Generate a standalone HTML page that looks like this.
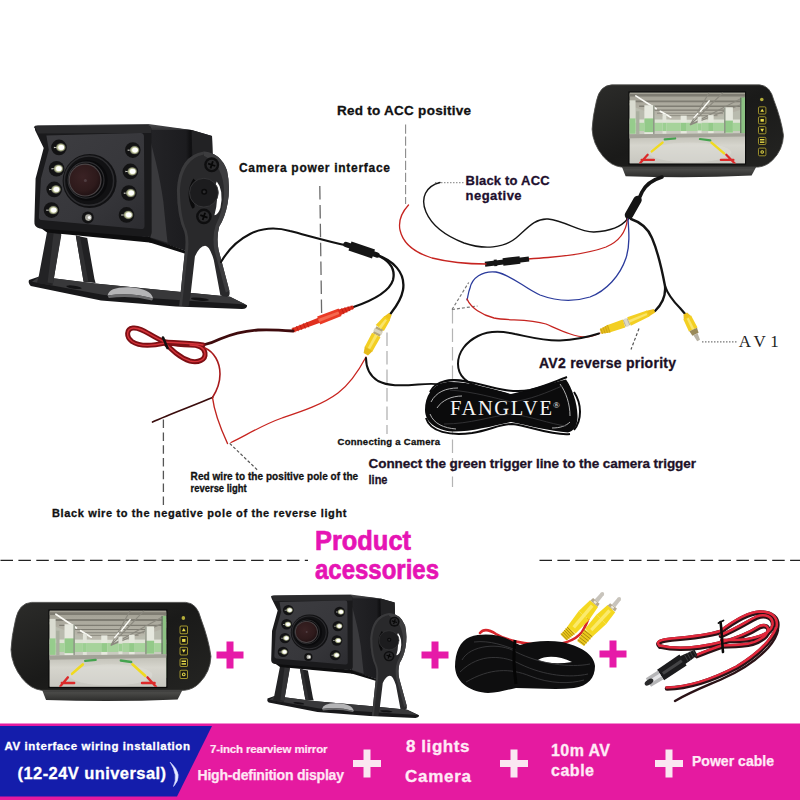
<!DOCTYPE html>
<html lang="en">
<head>
<meta charset="utf-8">
<title>Product accessories</title>
<style>
html,body{margin:0;padding:0;background:#fff;}
body{width:800px;height:800px;overflow:hidden;position:relative;}
svg{display:block;position:absolute;left:0;top:0;}
text{font-family:"Liberation Sans",sans-serif;font-weight:bold;}
.serif{font-family:"Liberation Serif",serif;font-weight:normal;}
</style>
</head>
<body>
<svg width="800" height="800" viewBox="0 0 800 800">
<defs>
<linearGradient id="gFront" x1="0" y1="0" x2="1" y2="1">
<stop offset="0" stop-color="#3d3d41"/><stop offset="0.6" stop-color="#37373b"/><stop offset="1" stop-color="#2c2c30"/>
</linearGradient>
<linearGradient id="gSide" x1="0" y1="0" x2="1" y2="0">
<stop offset="0" stop-color="#242427"/><stop offset="0.6" stop-color="#1c1c1f"/><stop offset="0.66" stop-color="#101012"/><stop offset="1" stop-color="#1e1e20"/>
</linearGradient>
<linearGradient id="gTop" x1="0" y1="0" x2="0" y2="1">
<stop offset="0" stop-color="#4a4a4c"/><stop offset="1" stop-color="#2a2a2c"/>
</linearGradient>
<radialGradient id="gLens" cx="0.42" cy="0.4" r="0.65">
<stop offset="0" stop-color="#3a2224"/><stop offset="0.7" stop-color="#2e1a1b"/><stop offset="1" stop-color="#1e1012"/>
</radialGradient>
<radialGradient id="gLed" cx="0.5" cy="0.5" r="0.5">
<stop offset="0" stop-color="#ffffff"/><stop offset="0.45" stop-color="#f4f7d8"/><stop offset="0.75" stop-color="#9aa07a"/><stop offset="1" stop-color="#2a2a2a"/>
</radialGradient>
<linearGradient id="gBase" x1="0" y1="0" x2="0" y2="1">
<stop offset="0" stop-color="#3c3c3e"/><stop offset="1" stop-color="#151517"/>
</linearGradient>
<g id="led">
<circle r="26" cx="-3" fill="#121213"/>
<ellipse cx="3" cy="0" rx="17" ry="15" fill="url(#gLed)"/>
<ellipse cx="5" cy="0" rx="9" ry="8" fill="#ffffff"/>
<path d="M-20,-2 L-8,0 L-20,3 Z" fill="#c9c9c0"/>
</g>
<g id="cam">
<!-- coordinates in 3.333x zoom space, origin real(20,100) -->
<!-- base plate -->
<path d="M30,600 Q26,610 36,620 L270,668 L520,688 L740,697 Q758,696 757,684 L700,656 L520,638 L250,612 L64,588 Z" fill="#18181a"/>
<path d="M64,588 L250,612 L520,638 L700,656 L752,682 L600,672 L280,650 L40,606 Z" fill="#38383a"/>
<path d="M292,652 Q296,622 366,624 Q436,628 444,662 Q370,640 292,652 Z" fill="#b4b4b6"/>
<path d="M292,652 Q370,640 444,662 L440,668 Q370,650 296,660 Z" fill="#6a6a6c"/>
<ellipse cx="180" cy="624" rx="26" ry="5" fill="#121214" transform="rotate(8 180 624)"/>
<ellipse cx="600" cy="664" rx="30" ry="5" fill="#121214" transform="rotate(5 600 664)"/>
<!-- housing right side (behind bracket) -->
<path d="M420,84 L572,100 L640,120 L642,180 L600,230 L562,506 L430,462 L430,150 Z" fill="url(#gSide)"/>
<path d="M572,100 L640,120 L642,180 L612,200 L575,215 Z" fill="#222224"/>
<path d="M436,140 C446,180 466,250 478,340 C484,400 488,440 492,476 L436,458 Z" fill="#3a3a3d"/>
<path d="M430,458 L562,506 L556,514 L430,474 Z" fill="#0e0e0f"/>
<!-- bracket side plate + two legs -->
<path d="M613,172 Q668,176 690,235 Q702,290 692,345 Q684,390 664,422 Q654,460 662,500 L698,636 Q702,656 688,657 L668,652 L646,533 Q632,486 617,486 Q598,488 583,522 L569,645 L562,688 L531,686 L548,520 Q556,470 548,440 Q524,390 523,300 Q530,185 613,172 Z" fill="#29292b"/>
<path d="M613,172 Q668,176 690,235 Q702,290 692,345 Q684,390 664,422 Q654,460 662,500 L698,636 L686,642 L648,500 Q640,455 652,418 Q676,370 680,320 Q684,220 613,186 Z" fill="#3d3d3f"/>
<path d="M613,172 Q530,185 523,300 Q524,390 548,440 Q556,470 548,520 L531,686 L540,686 L558,520 Q566,470 556,436 Q534,390 533,300 Q540,196 613,182 Z" fill="#3a3a3c"/>
<path d="M656,272 Q680,300 668,360 Q660,384 648,384 Q664,330 650,286 Z" fill="#ffffff"/>
<path d="M578,262 Q548,310 574,362 Q584,362 582,350 Q566,312 588,272 Z" fill="#0b0b0c"/>
<circle cx="613" cy="309" r="48" fill="#1c1c1e"/>
<circle cx="613" cy="309" r="48" fill="none" stroke="#38383a" stroke-width="3"/>
<circle cx="614" cy="306" r="10" fill="#0a0a0b"/><circle cx="614" cy="306" r="5" fill="#2a2a2c"/>
<circle cx="639" cy="216" r="25" fill="#0e0e0f"/><circle cx="639" cy="216" r="17" fill="#2a2a2c"/><path d="M627,212l24,8M643,204l-8,24" stroke="#070707" stroke-width="6"/>
<circle cx="613" cy="388" r="26" fill="#0e0e0f"/><circle cx="613" cy="388" r="18" fill="#2a2a2c"/><path d="M601,384l24,8M617,376l-8,24" stroke="#070707" stroke-width="6"/>
<!-- front legs -->
<path d="M92,430 L138,440 L112,600 L108,618 L56,610 L62,590 Z" fill="#232325"/>
<path d="M112,444 L138,448 L110,612 L92,608 Z" fill="#323234"/>
<path d="M186,452 L224,460 L248,596 L252,610 L212,606 Z" fill="#212123"/>
<path d="M186,452 L200,455 L228,606 L212,606 Z" fill="#2f2f31"/>
<!-- under-housing shadow strip -->
<path d="M60,420 L432,456 L440,476 L380,470 L90,442 Z" fill="#0d0d0e"/>
<!-- top surface -->
<path d="M46,92 Q48,84 60,84 L428,80 L572,100 L440,100 L60,104 Z" fill="url(#gTop)"/>
<!-- front hood frame -->
<path d="M50,88 L424,84 Q437,85 438,98 L439,440 Q439,459 420,457 L66,428 Q46,424 48,404 L52,262 L79,160 L50,100 Z" fill="#1a1a1c"/>
<path d="M50,88 L424,84 Q437,85 438,98 L438,110 L60,112 Z" fill="#2a2a2c"/>
<!-- inner front face -->
<path d="M88,118 L402,110 Q413,110 413,122 L415,420 Q415,432 402,430 L72,400 Q62,398 63,388 L70,262 L96,166 Z" fill="url(#gFront)"/>
<!-- lens -->
<circle cx="232" cy="270" r="90" fill="#111113"/>
<circle cx="230" cy="269" r="82" fill="none" stroke="#2c2c2f" stroke-width="5"/>
<circle cx="224" cy="268" r="68" fill="#0a0a0c"/>
<circle cx="220" cy="267" r="60" fill="none" stroke="#2e2e31" stroke-width="4"/>
<circle cx="217" cy="267" r="55" fill="#4a4446"/>
<circle cx="217" cy="267" r="51" fill="url(#gLens)"/>
<circle cx="218" cy="268" r="5" fill="#5a4a4e" opacity="0.7"/>
<!-- leds -->
<use href="#led" x="133" y="158"/><use href="#led" x="125" y="229"/><use href="#led" x="117" y="298"/><use href="#led" x="108" y="367"/>
<use href="#led" x="379" y="167"/><use href="#led" x="371" y="238"/><use href="#led" x="366" y="310"/><use href="#led" x="358" y="383"/>
<circle cx="226" cy="392" r="20" fill="#121213"/><circle cx="228" cy="392" r="11" fill="#a9a9a0"/><circle cx="231" cy="392" r="5" fill="#ffffff"/>
</g>
<linearGradient id="gMonBody" x1="0" y1="0" x2="1" y2="1">
<stop offset="0" stop-color="#2c2c2a"/><stop offset="0.5" stop-color="#1a1a19"/><stop offset="1" stop-color="#242422"/>
</linearGradient>
<linearGradient id="gMonBar" x1="0" y1="0" x2="0" y2="1">
<stop offset="0" stop-color="#2a2a29"/><stop offset="0.35" stop-color="#4a4a48"/><stop offset="1" stop-color="#2c2c2b"/>
</linearGradient>
<linearGradient id="gCeil" x1="0" y1="0" x2="0" y2="1">
<stop offset="0" stop-color="#a19f93"/><stop offset="1" stop-color="#bcbaae"/>
</linearGradient>
<linearGradient id="gFloor" x1="0" y1="0" x2="0" y2="1">
<stop offset="0" stop-color="#bdbcb2"/><stop offset="0.4" stop-color="#d6d5cd"/><stop offset="1" stop-color="#c8c7c0"/>
</linearGradient>
<clipPath id="scrClip"><rect x="180" y="82" width="420" height="258"/></clipPath>
<g id="monBody">
<!-- coordinates in 3.636x zoom space, origin real(580,70) -->
<path d="M150,346 L644,346 L624,384 Q400,394 166,386 Z" fill="url(#gMonBar)"/>
<path d="M116,54 L652,54 Q692,56 705,110 Q732,180 740,238 Q738,290 700,328 Q678,350 648,353 L150,353 Q112,348 84,314 Q46,268 44,215 Q46,170 60,112 Q72,56 116,54 Z" fill="url(#gMonBody)"/>
<path d="M116,54 L652,54 Q692,56 705,110 Q732,180 740,238 Q738,290 700,328 Q678,350 648,353 L150,353 Q112,348 84,314 Q46,268 44,215 Q46,170 60,112 Q72,56 116,54 Z" fill="none" stroke="#4a4a48" stroke-width="3"/>
</g>
<g id="monScr">
<!-- screen -->
<rect x="176" y="78" width="428" height="266" fill="#0c0c0c"/>
<g clip-path="url(#scrClip)">
<rect x="180" y="82" width="420" height="258" fill="#cfd2c6"/>
<!-- back wall band -->
<rect x="180" y="120" width="420" height="114" fill="#b9bbae"/>
<rect x="180" y="180" width="420" height="14" fill="#dfe3d6"/>
<rect x="180" y="192" width="420" height="30" fill="#a6d39b"/>
<rect x="180" y="222" width="420" height="12" fill="#c9cbc0"/>
<!-- ceiling -->
<path d="M180,82 L600,82 L600,140 L500,172 L470,180 L330,180 L290,170 L180,128 Z" fill="url(#gCeil)"/>
<g stroke="#7f7d73" fill="none">
<path d="M180,92 H600" stroke-width="9"/>
<path d="M180,114 H600" stroke-width="7"/>
<path d="M215,132 H585" stroke-width="5"/>
<path d="M250,146 H550" stroke-width="4"/>
<path d="M280,157 H520" stroke-width="3"/>
<path d="M300,166 H500" stroke-width="2.5"/>
<path d="M400,200 L470,82 M400,200 L520,82 M400,200 L600,96 M400,200 L600,120" stroke-width="4" stroke="#8b897f"/>
</g>
<path d="M203,94 L277,141 M292,150 L330,172" stroke="#fbfbf6" stroke-width="6" stroke-linecap="round"/>
<path d="M470,112 L438,150 M428,158 L414,174" stroke="#fbfbf6" stroke-width="5" stroke-linecap="round"/>
<!-- pillars -->
<rect x="180" y="110" width="22" height="140" fill="#d9dbd0"/><rect x="180" y="176" width="22" height="56" fill="#96cc8c"/>
<rect x="234" y="128" width="36" height="114" fill="#e6e8de"/><rect x="234" y="176" width="36" height="50" fill="#93ca89"/><rect x="266" y="128" width="5" height="114" fill="#8d9285"/>
<rect x="204" y="150" width="12" height="84" fill="#a9ae9f"/>
<rect x="300" y="160" width="14" height="72" fill="#e2e4da"/><rect x="300" y="192" width="14" height="30" fill="#9ccf92"/>
<rect x="366" y="166" width="22" height="66" fill="#e6e8de"/><rect x="366" y="192" width="22" height="30" fill="#93ca89"/>
<rect x="428" y="170" width="14" height="60" fill="#e2e4da"/><rect x="428" y="194" width="14" height="26" fill="#9ccf92"/>
<rect x="466" y="164" width="20" height="68" fill="#e6e8de"/><rect x="466" y="192" width="20" height="30" fill="#93ca89"/>
<rect x="524" y="136" width="32" height="104" fill="#e6e8de"/><rect x="524" y="184" width="32" height="44" fill="#93ca89"/><rect x="524" y="136" width="5" height="104" fill="#8d9285"/>
<rect x="586" y="100" width="14" height="210" fill="#8cc283"/><rect x="582" y="100" width="5" height="210" fill="#6a7a66"/>
<!-- floor -->
<path d="M180,234 L600,230 L600,340 L180,340 Z" fill="url(#gFloor)"/>
<path d="M180,234 L600,230 L600,242 L180,248 Z" fill="#a3a298"/>
<ellipse cx="400" cy="300" rx="150" ry="36" fill="#e2e1db" opacity="0.4"/>
<!-- guide lines -->
<path d="M308,252 L346,249" stroke="#44a34e" stroke-width="8" stroke-linecap="round"/>
<path d="M436,251 L474,256" stroke="#44a34e" stroke-width="8" stroke-linecap="round"/>
<path d="M300,264 L261,296" stroke="#f0da20" stroke-width="9" stroke-linecap="round"/>
<path d="M478,264 L524,303" stroke="#f0da20" stroke-width="9" stroke-linecap="round"/>
<path d="M246,308 L219,338 M224,327 L269,327" stroke="#dc2a2a" stroke-width="8" stroke-linecap="round"/>
<path d="M532,308 L563,340 M512,327 L558,327" stroke="#dc2a2a" stroke-width="8" stroke-linecap="round"/>
</g>
<!-- buttons -->
<circle cx="661" cy="107" r="6.5" fill="#b4ad3a"/>
<g fill="#1a1a14" stroke="#a3962f" stroke-width="3.5">
<rect x="649" y="134" width="27" height="26" rx="4"/>
<rect x="649" y="170" width="27" height="26" rx="4"/>
<rect x="649" y="206" width="27" height="26" rx="4"/>
<rect x="649" y="245" width="27" height="26" rx="4"/>
<rect x="649" y="284" width="27" height="28" rx="4"/>
</g>
<g fill="#e9dc4a">
<path d="M662.5,141l7,11h-14z"/><rect x="656.5" y="178" width="12" height="10"/><path d="M662.5,225l7,-11h-14z"/><rect x="654.5" y="251" width="16" height="5"/><rect x="654.5" y="260" width="16" height="5"/><circle cx="662.5" cy="298" r="6.5"/>
</g>
<circle cx="662.5" cy="298" r="3" fill="#1a1a14"/>
</g>

</defs>
<rect x="0" y="0" width="800" height="800" fill="#ffffff"/>

<!-- ===== dashed guide lines ===== -->
<g id="guides" fill="none" stroke="#8a8a8a" stroke-width="1.2">
<path d="M405.6,124.4V204" stroke-dasharray="9.3 2.8" stroke="#8a8a8a" stroke-width="1.1"/>
<path d="M319.8,186L321.6,313" stroke-dasharray="13.5 5.4" stroke="#6a6a6a" stroke-width="1.3"/>
<path d="M435,182.6H465" stroke-dasharray="1.5 1.5" stroke="#999"/>
<path d="M163.4,419.6V509" stroke-dasharray="8.5 4.3" stroke="#555" stroke-width="1.3"/>
<path d="M229.7,443.4L257.4,470" stroke-dasharray="3 2" stroke="#555"/>
<path d="M387,332.5V434" stroke-dasharray="13.5 5" stroke="#adadad"/>
<path d="M452.5,310V487" stroke-dasharray="13.5 5" stroke="#b4b4b4"/>
<path d="M452,309.5L468.7,282.5" stroke-dasharray="3 2" stroke="#777"/>
<path d="M452,309.5L477.5,306" stroke-dasharray="3 2" stroke="#777"/>
<path d="M639,328.5L631,349.5" stroke-dasharray="3 2" stroke="#555"/>
<path d="M702,341.8H737" stroke-dasharray="1.5 1.5" stroke="#777"/>

</g>

<!-- ===== top camera ===== -->
<use href="#cam" transform="translate(20,100) scale(0.3)"/>


<!-- ===== top monitor ===== -->
<use href="#monBody" transform="translate(580,70) scale(0.275)"/>
<use href="#monScr" transform="translate(580,70) scale(0.275)"/>


<!-- ===== wires ===== -->
<g id="wires" fill="none" stroke-linecap="round" stroke-linejoin="round">
<!-- camera cable -->
<path d="M221,262 C228,250 238,240 250,234 C262,228 276,227 290,231 C306,235 326,241 347,245.5" stroke="#111" stroke-width="2.1"/>
<path d="M350,246 L373.5,254" stroke="#161616" stroke-width="9.4" stroke-linecap="butt"/>
<path d="M346,244.5 L377,255" stroke="#161616" stroke-width="5.5"/>
<path d="M377,255 C388,260 396,268 393,280 C389,293 371,301 353.5,307" stroke="#111" stroke-width="2.3"/>
<path d="M377,255 C392,260 406,272 403,290 C401,301 395,308 390.3,314" stroke="#111" stroke-width="2.3"/>
<!-- red connector -->
<polygon points="293.1,332.6 320.8,322.6 318.8,317.4 291.5,328.6" fill="#e0301f"/>
<path d="M294.8,332.0L293.2,327.8M298.3,330.8L296.6,326.5M301.7,329.5L300.0,325.1M305.2,328.3L303.4,323.7M308.6,327.0L306.8,322.3" stroke="#b81c12" stroke-width="0.8" fill="none"/>
<polygon points="320.2,324.5 341.5,315.9 338.6,308.5 317.1,316.4" fill="#ea3a25"/>
<polygon points="319.2,321.9 340.5,313.4 339.6,311.0 318.1,319.1" fill="#f46a50"/>
<polygon points="340.0,315.6 354.1,308.5 352.9,305.5 337.7,309.7" fill="#de2c1c"/>
<path d="M343.8,313.8L341.8,308.5M346.8,312.3L344.9,307.6M349.7,310.8L348.1,306.7M352.6,309.3L351.3,305.9" stroke="#b81c12" stroke-width="0.8" fill="none"/>
<!-- red/black twin power wire -->
<path d="M293,331 C280,330 268,329.5 258,330 C245,331 232,334 220,339 C214,342 208,344 203,345" stroke="#3f0b0d" stroke-width="2.8"/>
<!-- bundle -->
<g stroke="#7d0f14" stroke-width="5">
<path d="M203,345 C190,343 178,343 165,342 C150,336 142,327 133,328 C126,329 126,337 132,341.5 C140,347 152,346 165,343"/>
<path d="M165,343 C172,350 180,358 190,361 C198,363 206,360 205,353 C204,347 198,345 190,345 C182,345 174,344 165,342"/>
</g>
<g stroke="#d5333a" stroke-width="1.4">
<path d="M203,345 C190,343 178,343 165,342 C150,336 142,327 133,328 C126,329 126,337 132,341.5 C140,347 152,346 165,343"/>
<path d="M165,343 C172,350 180,358 190,361 C198,363 206,360 205,353 C204,347 198,345 190,345"/>
</g>
<path d="M163,337.5 L167.5,348" stroke="#111" stroke-width="2.6"/>
<path d="M205,348 C214,352 220,362 220,374 C220,384 216,392 212.5,397.5" stroke="#a81a1c" stroke-width="1.6"/>
<path d="M212.5,397.5 C195,405 170,414 152.5,422" stroke="#3a0c0c" stroke-width="1.7"/>
<path d="M212.5,397.5 C214,410 219,425 227.5,443.5" stroke="#c0241f" stroke-width="1.4"/>
<!-- thin red from camera RCA -->
<path d="M366,357 C358,372 350,384 338,393 C322,405 300,412 282,418 C262,425 245,436 231,442.5" stroke="#c8241f" stroke-width="1.3"/>
<!-- yellow RCA camera -->
<polygon points="388.9,312.9 383.8,316.8 389.4,321.0 391.7,315.1" fill="#eec21c"/>
<polygon points="384.4,316.1 375.7,324.9 383.9,331.1 390.0,320.3" fill="#f3cf22"/>
<polygon points="376.4,326.3 372.9,333.3 379.7,336.7 383.2,329.7" fill="#b5a77a"/>
<polygon points="374.7,328.1 373.3,330.9 381.4,334.9 382.8,332.1" fill="#d9d4c0"/>
<polygon points="372.1,332.7 364.5,347.3 372.4,351.6 380.5,337.3" fill="#f3cf22"/>
<polygon points="364.8,346.7 363.6,353.1 368.0,355.5 372.7,351.0" fill="#e6bb1a"/>
<polygon points="385.2,318.9 378.6,327.1 381.0,328.9 387.0,320.3" fill="#f9e46a"/>
<polygon points="375.0,334.3 367.8,347.9 370.1,349.1 377.6,335.7" fill="#f9e46a"/>
<!-- cable from camera RCA to coil -->
<path d="M366,358 C366,368 370,376 378,381 C388,386 400,386 418,384.5 C430,383.5 440,383 448,386" stroke="#111" stroke-width="2"/>
<!-- monitor harness: thick cable and joint -->
<path d="M662,177 C652,180 646,184 642,192 C640,197 638,200 636,204" stroke="#141414" stroke-width="3.6"/>
<path d="M637.5,200 L629,215" stroke="#141414" stroke-width="8.5"/>
<path d="M629,215 L627.5,219" stroke="#141414" stroke-width="3"/>
<!-- black thin wire -->
<path d="M627.5,219 C622,226 612,231 594,232 C580,232.5 566,221 548,219 C534,218 526,230 516,238 C504,248 484,250 464,243 C446,236 432,226 426,212 C420,198 426,186 440,182.5" stroke="#151515" stroke-width="1.4"/>
<!-- red wire w/ fuse -->
<path d="M627.5,219 C626,232 618,242 606,247 C590,253 566,256 548,257.5 C540,258 534,258.5 528,259" stroke="#c62420" stroke-width="1.3"/>
<path d="M485,264.2 L529,259" stroke="#151515" stroke-width="5" stroke-linecap="butt"/>
<path d="M503,262 L520,260" stroke="#151515" stroke-width="7.6" stroke-linecap="butt"/>
<path d="M494,263 L497,262.7" stroke="#151515" stroke-width="6.6" stroke-linecap="butt"/>
<path d="M486,264 C466,264 448,262 432,258 C416,253 403,244 400,230 C398,220 403,211 408.5,205" stroke="#c62420" stroke-width="1.3"/>
<!-- blue wire -->
<path d="M628,219 C629,232 630,246 626,258 C620,276 606,291 590,297 C574,302 556,301 540,295 C524,288 512,275 496,272 C482,270.5 472,278 470,288 C468,293 468,297 467,300" stroke="#2b3b9c" stroke-width="1.3"/>
<!-- lower red wire to AV2 -->
<path d="M467,299 C471,308 482,315 494,318 C508,321 528,318.5 546,324 C560,330 574,337 586,337 C592,337 596,335 600,333" stroke="#c62420" stroke-width="1.3"/>
<!-- thick black cable from joint to RCAs -->
<path d="M631,219 C640,222 648,228 652,238 C658,252 662,270 665,286 C666,296 662,304 655,311" stroke="#141414" stroke-width="2.4"/>
<path d="M665,286 C668,295 674,302 680,308 L686,315" stroke="#141414" stroke-width="2.2"/>
<!-- AV2 pair -->
<polygon points="653.8,309.1 645.6,311.0 648.1,317.0 655.2,312.5" fill="#eec21c"/>
<polygon points="646.9,310.5 627.2,317.2 630.8,325.8 649.4,316.5" fill="#f3cf22"/>
<polygon points="627.7,318.3 622.7,320.3 625.3,326.7 630.3,324.7" fill="#b9b39a"/>
<polygon points="626.4,318.0 623.4,319.2 626.6,327.0 629.6,325.8" fill="#dcd8c8"/>
<polygon points="622.7,319.6 606.3,325.4 608.8,332.8 625.3,327.4" fill="#f3cf22"/>
<polygon points="607.5,325.0 599.8,329.3 601.2,333.7 610.0,332.4" fill="#e6bb1a"/>
<path d="M607.6,325.3L609.9,332.1M605.3,326.4L607.4,332.6M603.1,327.5L605.0,333.1M600.8,328.7L602.5,333.5" stroke="#c79f12" stroke-width="0.8" fill="none"/>
<polygon points="646.5,313.1 628.5,320.2 629.5,322.8 647.2,314.9" fill="#f9e46a"/>
<!-- AV1 plug -->
<polygon points="683.5,314.4 683.8,320.2 691.5,316.4 687.1,312.6" fill="#eec21c"/>
<polygon points="683.4,319.4 688.9,331.6 697.5,327.4 691.1,315.6" fill="#f3cf22"/>
<polygon points="686.7,318.8 692.0,330.1 694.4,328.9 688.7,317.8" fill="#f9e46a"/>
<polygon points="689.4,331.3 692.4,335.7 698.6,332.7 697.0,327.7" fill="#9a8a5a"/>
<polygon points="693.4,335.2 697.2,341.2 700.0,339.8 697.6,333.2" fill="#b9b4a6"/>
<!-- long cable from AV2 to coil -->
<path d="M599,333.5 C588,337 574,340 560,340.5 C544,341 530,337 515,334 C502,331 488,331 478,336 C466,342 458,352 458,364 C458,376 468,384 482,388 C492,391 500,392 506,394" stroke="#111" stroke-width="2"/>
</g>
<!-- coil -->
<g id="coil">
<path d="M425,410 C425,396 432,386 444,382.5 C462,380 490,388 511,394 C530,390 550,383 566,379.5 C572,388 578,404 577.5,418 C577,426 574,431 568,432.5 C550,431 530,426 511,422 C492,426 470,432 452,431.5 C436,430 425,422 425,410 Z" fill="#0b0b0c"/>
<g fill="none" stroke="#0b0b0c" stroke-width="2">
<path d="M446,381 C470,376 500,396 530,390 C545,386 556,381 567,377"/>
<path d="M430,392 C436,380 452,378 468,382"/>
<path d="M426,418 C430,432 450,436 472,433 C490,430 500,424 512,424 C530,426 552,436 570,434"/>
<path d="M574,392 C582,404 582,420 574,430"/>
<path d="M438,386 C432,396 430,410 436,424"/>
</g>
<g fill="none" stroke="#ffffff" stroke-width="0.9" opacity="0.75">
<path d="M431,402 C436,392 446,388 458,388"/>
<path d="M430,414 C434,424 444,428 456,429"/>
<path d="M437,408 C442,400 452,396 462,396"/>
<path d="M560,384 C566,392 570,404 570,416"/>
<path d="M552,428 C560,428 566,426 570,422"/>
</g>
<g fill="none" stroke="#3a3a3c" stroke-width="0.8">
<path d="M450,390 C475,392 495,398 511,402 C530,400 548,392 562,386"/>
<path d="M444,424 C470,424 492,416 511,414 C530,416 550,424 566,426"/>
</g>
<text class="serif" x="450" y="415" font-size="20.5" fill="#f4f4f4" textLength="102" lengthAdjust="spacing">FANGLVE</text>
<text class="serif" x="553" y="408" font-size="9" fill="#f4f4f4">®</text>
</g>


<!-- ===== labels ===== -->
<g id="labels">
<text x="337" y="114.7" font-size="13.5" fill="#111111" stroke="#111111" stroke-width="0.3" textLength="134" lengthAdjust="spacing">Red to ACC positive</text>
<text x="239" y="171.7" font-size="12" fill="#111111" stroke="#111111" stroke-width="0.3" textLength="151" lengthAdjust="spacing">Camera power interface</text>
<text x="465.6" y="185.0" font-size="13" fill="#1e0f2e" stroke="#1e0f2e" stroke-width="0.3" textLength="84" lengthAdjust="spacing">Black to ACC</text>
<text x="465.6" y="200.3" font-size="13" fill="#1e0f2e" stroke="#1e0f2e" stroke-width="0.3" textLength="56" lengthAdjust="spacing">negative</text>
<text x="539" y="368.4" font-size="14" fill="#1c1026" stroke="#1c1026" stroke-width="0.3" textLength="137" lengthAdjust="spacing">AV2 reverse priority</text>
<text class="serif" x="738.8" y="346.7" font-size="17" fill="#222222" textLength="40" lengthAdjust="spacing">AV1</text>
<text x="337.5" y="444.7" font-size="9.5" fill="#111111" stroke="#111111" stroke-width="0.3" textLength="102.5" lengthAdjust="spacing">Connecting a Camera</text>
<text x="368.5" y="468.2" font-size="13.5" fill="#1e1228" stroke="#1e1228" stroke-width="0.3" textLength="327.5" lengthAdjust="spacing">Connect the green trigger line to the camera trigger</text>
<text x="368.5" y="484.2" font-size="13.5" fill="#1e1228" stroke="#1e1228" stroke-width="0.3" textLength="19" lengthAdjust="spacingAndGlyphs">line</text>
<text x="190.6" y="480.2" font-size="10" fill="#111111" stroke="#111111" stroke-width="0.3" textLength="167.5" lengthAdjust="spacing">Red wire to the positive pole of the</text>
<text x="190.6" y="492.1" font-size="10" fill="#111111" stroke="#111111" stroke-width="0.3" textLength="56" lengthAdjust="spacingAndGlyphs">reverse light</text>
<text x="52" y="516.7" font-size="11" fill="#111111" stroke="#111111" stroke-width="0.3" textLength="294.5" lengthAdjust="spacing">Black wire to the negative pole of the reverse light</text>
<text x="315" y="550" font-size="27" fill="#e614b4" stroke="#e614b4" stroke-width="0.7" textLength="96" lengthAdjust="spacingAndGlyphs">Product</text>
<text x="315" y="579" font-size="27" fill="#e614b4" stroke="#e614b4" stroke-width="0.7" textLength="124" lengthAdjust="spacingAndGlyphs">acessories</text>
<g fill="#e61aa8">
<path d="M226.5,641.5h7v10h10v7h-10v10h-7v-10h-10v-7h10z"/>
<path d="M431.5,641.5h7v10h10v7h-10v10h-7v-10h-10v-7h10z"/>
<path d="M609.5,640.5h7v10h10v7h-10v10h-7v-10h-10v-7h10z"/>
</g>
<g fill="none" stroke="#222222" stroke-width="1.3">
<path d="M0.5,560.3H308" stroke-dasharray="12.5 5.4"/>
<path d="M539.5,560.3H800" stroke-dasharray="12.5 5.4"/>
</g>

</g>

<!-- ===== accessories row ===== -->
<g id="accessories">
<use href="#monBody" transform="translate(-1.64,586.5) scale(0.2873,0.294)"/>
<use href="#monScr" transform="translate(-0.6,586.4) scale(0.2783,0.2953)"/>
<use href="#cam" transform="translate(261.2,578.5) scale(0.2085,0.2)"/>
<!-- AV cable -->
<g id="avcable">
<path d="M480,633 C484,628 490,630 496,634 C506,640 520,644 545,645 C560,645 574,642 582,632 C586,626 588,620 590,614" fill="none" stroke="#d6252b" stroke-width="2.6" stroke-linecap="round"/>
<path d="M455,667 C455,652 460,641 470,637 C482,633 498,634 510,640 C514,642 517,644 520,645 C532,641 548,640 562,642 C580,646 594,654 595,666 C595,678 588,686 574,688 C556,690 536,688 516,688 C506,690 498,693 488,693 C472,692 456,684 455,667 Z" fill="#0e0e0f"/>
<path d="M538,660 C546,655 560,656 572,662 C560,664 548,664 538,660 Z" fill="#ffffff"/>
<g fill="none" stroke="#3a3a3c" stroke-width="0.9">
<path d="M462,660 C470,645 500,642 516,652 C540,664 570,668 590,664"/>
<path d="M460,672 C480,652 505,656 520,664 C545,676 570,678 588,674"/>
<path d="M466,682 C490,668 510,668 530,676 C550,684 570,684 584,680"/>
<path d="M474,642 C490,640 505,646 516,650"/>
</g>
<path d="M515,640 C513,655 514,670 516,684" fill="none" stroke="#050505" stroke-width="3"/>
<!-- RCA plug 1 -->
<polygon points="567.9,626.2 560.6,634.4 566.4,640.6 575.1,633.8" fill="#ecc81c"/>
<path d="M567.2,627.0L574.2,634.5M565.7,628.6L572.5,635.9M564.2,630.2L570.8,637.3M562.7,631.9L569.1,638.6M561.2,633.5L567.4,640.0" stroke="#a88a10" stroke-width="1.0" fill="none"/>
<polygon points="590.0,600.2 578.7,611.1 589.1,619.9 598.0,607.0" fill="#f4d820"/>
<polygon points="578.7,611.1 567.4,626.5 575.6,633.5 589.1,619.9" fill="#f4d820"/>
<polygon points="590.9,604.6 572.5,626.3 575.0,628.4 593.5,606.8" fill="#fbea6c"/>
<polygon points="597.6,606.7 599.6,603.7 593.1,598.1 590.4,600.5" fill="#b4a890"/>
<polygon points="595.6,604.0 597.0,602.4 594.7,600.5 593.3,602.1" fill="#efeadc"/>
<polygon points="598.0,602.4 603.7,595.2 600.9,592.8 594.7,599.5" fill="#c8c4bc"/>
<circle cx="602.3" cy="594.0" r="1.9" fill="#c8c4bc"/>
<!-- RCA plug 2 -->
<polygon points="584.8,629.3 577.1,640.9 583.9,646.1 593.2,635.7" fill="#ecc81c"/>
<path d="M584.1,630.4L592.2,636.8M582.5,632.7L590.4,638.9M580.9,635.0L588.6,641.0M579.4,637.4L586.7,643.0M577.8,639.7L584.9,645.1" stroke="#a88a10" stroke-width="1.0" fill="none"/>
<polygon points="607.6,605.0 596.4,614.7 606.3,624.0 615.2,612.2" fill="#f4d820"/>
<polygon points="596.4,614.7 585.1,628.8 592.9,636.2 606.3,624.0" fill="#f4d820"/>
<polygon points="608.4,609.3 590.1,629.0 592.4,631.2 610.8,611.7" fill="#fbea6c"/>
<polygon points="615.1,611.6 616.9,608.6 610.2,603.2 607.7,605.6" fill="#b4a890"/>
<polygon points="613.0,609.0 614.3,607.4 612.0,605.5 610.7,607.1" fill="#efeadc"/>
<polygon points="615.3,607.3 620.7,600.2 617.7,597.8 611.9,604.5" fill="#c8c4bc"/>
<circle cx="619.2" cy="599.0" r="1.9" fill="#c8c4bc"/>
</g>
<!-- power cable -->
<g id="powercable" fill="none" stroke-linecap="round" stroke-linejoin="round">
<g stroke="#2a1216" stroke-width="4.6">
<path d="M667,688.5 C690,688 715,679 737,667.5 C756,656 771,643 777,628 C779,618 772,612.5 760,612.5 C748,613 735,621 720.5,632 C708,636 690,638 672,639.5 C662,640.5 655,642.5 660,646.5"/>
<path d="M660,646.5 C676,650.5 700,648.5 722,643 C740,638 752,632 760,627 C768,624 771,630 766,636 C760,642 750,645 742,645.5 C732,646.5 726,646 722,646.5 C712,650 704,653 697,656"/>
<path d="M721,636 C736,630 748,622 757,617.5 C766,614 774,618 773,626 C771,634 760,638 748,640 C738,641.5 728,641 722,641"/>
</g>
<path d="M675,701 C690,692 706,686 722,679 C740,671 756,661 768,648 C774,641 777,636 778,630" stroke="#2a1216" stroke-width="2.4"/>
<g stroke="#e2283c" stroke-width="2.5" transform="translate(-0.5,-1)">
<path d="M667,688.5 C690,688 715,679 737,667.5 C756,656 771,643 777,628 C779,618 772,612.5 760,612.5 C748,613 735,621 720.5,632 C708,636 690,638 672,639.5 C662,640.5 655,642.5 660,646.5"/>
<path d="M660,646.5 C676,650.5 700,648.5 722,643 C740,638 752,632 760,627 C768,624 771,630 766,636 C760,642 750,645 742,645.5 C732,646.5 726,646 722,646.5 C712,650 704,653 697,656"/>
<path d="M721,636 C736,630 748,622 757,617.5 C766,614 774,618 773,626 C771,634 760,638 748,640 C738,641.5 728,641 722,641"/>
</g>
<path d="M720.5,622 C722,632 722,642 723,652" stroke="#0a0a0a" stroke-width="2.6"/>
<path d="M718.5,623 L723.5,620.5" stroke="#0a0a0a" stroke-width="1.8"/>
</g>
<g id="dcplug">
<polygon points="694.5,649.8 680.0,656.3 684.7,664.4 697.5,655.2" fill="#19191b"/>
<path d="M688.5,661.8L684.2,654.3M691.1,660.0L687.1,653.0M693.7,658.1L690.0,651.7M696.3,656.2L692.9,650.4" stroke="#3c3c3e" stroke-width="1.0" fill="none"/>
<polygon points="664.1,680.2 686.6,665.4 679.4,654.6 657.1,669.8" fill="#1b1b1d"/>
<polygon points="663.7,674.7 682.7,662.0 681.0,659.5 662.0,672.3" fill="#444446"/>
<polygon points="651.0,686.8 663.3,679.4 657.9,670.6 645.8,678.2" fill="#b5b5b7"/>
<polygon points="649.2,683.9 661.4,676.4 659.8,673.6 647.6,681.1" fill="#e6e6e8"/>
<ellipse cx="649.0" cy="682.1" rx="2.6" ry="4.8" transform="rotate(58 649.0 682.1)" fill="#2a2a2c"/>
</g>
</g>


<!-- ===== bottom band ===== -->
<g id="band">
<rect x="0" y="723.5" width="800" height="76.5" fill="#e51aa0"/>
<polygon points="0,726 212,726 177,796.5 0,796.5" fill="#141dab"/>
<text x="4.5" y="750" font-size="11.5" fill="#ffffff" stroke="#ffffff" stroke-width="0.3" textLength="185.5" lengthAdjust="spacing">AV interface wiring installation</text>
<text x="17.5" y="778.8" font-size="16.5" fill="#ffffff" stroke="#ffffff" stroke-width="0.3" textLength="148.5" lengthAdjust="spacing">(12-24V universal)</text>
<path d="M170,762 Q184.5,775 173.5,786.5 Q178.6,775 170,762 Z" fill="#e6eaff" stroke="#c9d0ff" stroke-width="0.6"/>
<text x="210" y="752.5" font-size="11.5" fill="#ffe6f4" stroke="#ffe6f4" stroke-width="0.2" textLength="117.5" lengthAdjust="spacing">7-inch rearview mirror</text>
<text x="197.5" y="780" font-size="14" fill="#ffe6f4" stroke="#ffe6f4" stroke-width="0.25" textLength="146.5" lengthAdjust="spacing">High-definition display</text>
<text x="406" y="751.6" font-size="17" fill="#ffeaf6" stroke="#ffeaf6" stroke-width="0.3" textLength="63.5" lengthAdjust="spacing">8 lights</text>
<text x="405" y="781.5" font-size="17" fill="#ffeaf6" stroke="#ffeaf6" stroke-width="0.3" textLength="66" lengthAdjust="spacing">Camera</text>
<text x="551" y="755.6" font-size="16" fill="#ffeaf6" stroke="#ffeaf6" stroke-width="0.3" textLength="59" lengthAdjust="spacing">10m AV</text>
<text x="551" y="775.8" font-size="16" fill="#ffeaf6" stroke="#ffeaf6" stroke-width="0.3" textLength="43" lengthAdjust="spacing">cable</text>
<text x="692" y="766" font-size="14" fill="#ffeaf6" stroke="#ffeaf6" stroke-width="0.25" textLength="82" lengthAdjust="spacing">Power cable</text>
<g fill="#fae6f1">
<path d="M363.5,749.5h7v10.5h10.5v7h-10.5v10.5h-7v-10.5h-10.5v-7h10.5z"/>
<path d="M510.5,749.5h7v10.5h10.5v7h-10.5v10.5h-7v-10.5h-10.5v-7h10.5z"/>
<path d="M665.5,749.5h7v10.5h10.5v7h-10.5v10.5h-7v-10.5h-10.5v-7h10.5z"/>
</g>
</g>

</svg>
</body>
</html>
